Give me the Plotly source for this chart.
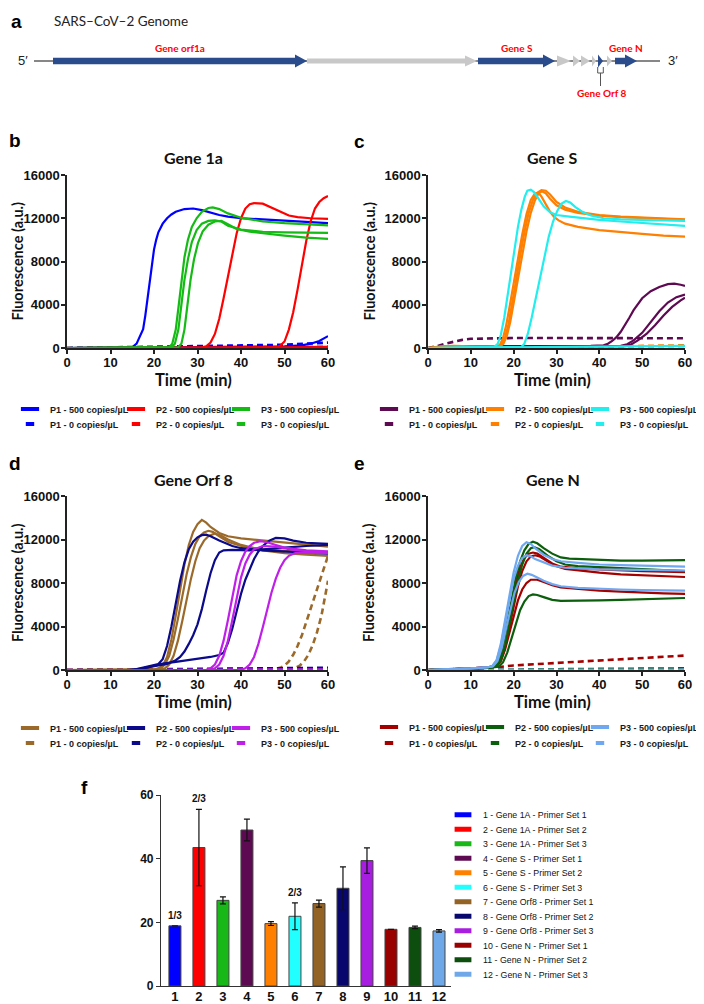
import plotly.graph_objects as go

W, H = 704, 1004

# ======================= DATA =======================
# ---- panel a : schematic genome (schematic positions along the genome) ----
GENOME_SPAN = [34, 660]
GENE_BLOCK_START = [53, 307, 478, 557, 573, 581, 592, 598, 607, 615]
GENE_BLOCK_END = [307, 477, 555, 571, 580, 590, 596, 603, 612, 637]
GENE_BLOCK_TARGET = [True, False, True, False, False, False, False, True, False, True]
GENE_LABEL_TEXT = ["Gene orf1a", "Gene S", "Gene N"]
GENE_LABEL_BLOCK = [0, 2, 9]
ORF8_BLOCK = 7
ORF8_LABEL = "Gene Orf 8"

TIME_TICKS = [0, 10, 20, 30, 40, 50, 60]
FLUOR_TICKS = [0, 4000, 8000, 12000, 16000]

LEGEND_500 = ["P1 - 500 copies/µL", "P2 - 500 copies/µL", "P3 - 500 copies/µL"]
LEGEND_0 = ["P1 - 0 copies/µL", "P2 - 0 copies/µL", "P3 - 0 copies/µL"]

# ---- panel b : Gene 1a  (each replicate = list of [time, fluorescence]) ----
GENE1A_P1_500 = [
    [[0, 0], [5, 20], [10, 40], [14, 30], [15, 60], [16, 400], [17, 1200], [17.5, 1750], [18, 3000],
     [18.5, 4500], [19, 6200], [19.5, 7900], [20, 9100], [20.5, 10000], [21, 10700], [22, 11500],
     [23, 12000], [24, 12350], [25, 12600], [27, 12850], [29, 12900], [31, 12750], [33, 12500],
     [35, 12300], [37, 12150], [40, 12000], [45, 11900], [50, 11800], [55, 11650], [60, 11550]],
    [[0, 0], [20, 50], [40, 100], [50, 150], [54, 250], [56, 400], [58, 650], [59, 850], [60, 1100]],
    [[0, 0], [30, 50], [60, 100]],
]
GENE1A_P1_0 = [[[0, 0], [10, 50], [20, 150], [30, 200], [40, 250], [50, 300], [55, 400], [60, 500]]]
GENE1A_P2_500 = [
    [[0, 0], [20, 20], [31, 40], [32, 150], [33, 500], [34, 1300], [35, 2700], [36, 4600], [37, 6700],
     [38, 8800], [39, 10600], [40, 12000], [41, 12900], [42, 13300], [43, 13400], [45, 13350],
     [47, 13000], [49, 12600], [51, 12250], [53, 12100], [56, 12000], [60, 11950]],
    [[0, 0], [30, 30], [48, 60], [49, 200], [50, 600], [51, 1700], [52, 3300], [53, 5400], [54, 7700],
     [55, 9900], [56, 11700], [57, 12900], [58, 13500], [59, 13850], [60, 14050]],
    [[0, 0], [60, 80]],
]
GENE1A_P2_0 = [[[0, 0], [60, 100]]]
GENE1A_P3_500 = [
    [[0, 0], [22, 20], [23.5, 50], [24.2, 400], [25, 1700], [25.7, 4000], [26.4, 6500], [27, 8400],
     [27.8, 10000], [28.7, 11200], [29.8, 12000], [31, 12600], [32.5, 12950], [33.5, 13000],
     [35, 12850], [37, 12450], [40, 12050], [45, 11700], [50, 11550], [55, 11450], [60, 11350]],
    [[0, 0], [24, 50], [24.8, 400], [25.6, 1700], [26.3, 4000], [27, 6300], [27.8, 8200], [28.7, 9800],
     [29.8, 10900], [31, 11500], [32.5, 11750], [34, 11800], [35.5, 11700], [37, 11300], [40, 10950],
     [45, 10750], [50, 10700], [55, 10670], [60, 10650]],
    [[0, 0], [25.5, 50], [26.3, 400], [27, 1700], [27.7, 4000], [28.4, 6300], [29.2, 8200], [30.1, 9700],
     [31.2, 10800], [32.5, 11400], [34, 11700], [35.5, 11750], [37, 11450], [39, 11000], [42, 10750],
     [46, 10550], [50, 10400], [55, 10200], [60, 10100]],
]
GENE1A_P3_0 = [[[0, 0], [60, 80]]]

# ---- panel c : Gene S ----
GENES_P1_500 = [
    [[0, 0], [3, 100], [10, 150], [20, 150], [30, 150], [38, 200], [41, 250], [42, 400], [43, 650],
     [44, 1000], [45, 1500], [46, 2100], [47, 2800], [48, 3500], [49, 4100], [50, 4600], [52, 5250],
     [54, 5650], [56, 5900], [57.5, 5950], [59, 5850], [60, 5750]],
    [[0, 0], [5, 120], [20, 150], [40, 150], [45, 200], [46.5, 350], [48, 700], [50, 1400], [52, 2400],
     [54, 3400], [56, 4200], [58, 4700], [60, 4950]],
    [[0, 0], [5, 100], [20, 130], [40, 140], [46, 180], [47.5, 350], [49, 700], [51, 1300], [53, 2100],
     [55, 3000], [57, 3800], [59, 4400], [60, 4650]],
]
GENES_P1_0 = [[[0, 0], [2, 150], [4, 400], [6, 600], [8, 750], [10, 850], [14, 900], [20, 920],
               [30, 920], [40, 920], [50, 900], [60, 900]]]
GENES_P2_500 = [
    [[0, 0], [3, 150], [6, 200], [10, 150], [14, 100], [16, 150], [16.8, 300], [17.5, 900], [18.2, 2000],
     [19, 3700], [20, 6000], [21, 8300], [22, 10500], [23, 12400], [24, 13700], [25, 14300],
     [25.8, 14350], [26.5, 14000], [27.5, 13300], [28.5, 12600], [29.5, 12100], [30.5, 11800],
     [32, 11500], [35, 11200], [40, 10900], [45, 10700], [50, 10550], [55, 10400], [60, 10300]],
    [[0, 0], [3, 100], [10, 100], [16.5, 150], [17.3, 400], [18, 1000], [18.8, 2200], [19.6, 3900],
     [20.5, 6100], [21.5, 8500], [22.5, 10700], [23.5, 12500], [24.5, 13700], [25.5, 14350],
     [26.5, 14600], [27.5, 14550], [28.5, 14200], [30, 13500], [32, 13000], [35, 12600], [40, 12300],
     [45, 12150], [50, 12050], [55, 11950], [60, 11900]],
    [[0, 0], [10, 100], [16.8, 150], [17.6, 400], [18.4, 1100], [19.2, 2400], [20, 4100], [21, 6400],
     [22, 8700], [23, 10800], [24, 12500], [25, 13700], [25.8, 14300], [26.6, 14500], [27.5, 14300],
     [28.5, 13800], [30, 13200], [32, 12800], [35, 12500], [40, 12250], [45, 12100], [50, 12000],
     [60, 11850]],
]
GENES_P2_0 = [[[0, 0], [20, 50], [40, 100], [50, 200], [60, 250]]]
GENES_P3_500 = [
    [[0, 0], [10, 50], [15.5, 100], [16.3, 400], [17, 1200], [17.8, 2800], [18.6, 4900], [19.4, 7100],
     [20.2, 9300], [21, 11200], [21.8, 12800], [22.6, 14000], [23.2, 14550], [24, 14650], [24.8, 14400],
     [25.8, 13800], [27, 13100], [28.5, 12550], [30, 12300], [33, 12150], [36, 12000], [40, 11850],
     [45, 11700], [50, 11550], [55, 11400], [60, 11300]],
    [[0, 0], [10, 50], [20, 80], [21.8, 100], [22.5, 400], [23.3, 1300], [24.2, 2800], [25.2, 4700],
     [26.2, 6700], [27.2, 8600], [28.2, 10300], [29.2, 11700], [30.2, 12700], [31.2, 13350],
     [32.2, 13600], [33.2, 13450], [34.5, 13000], [36, 12600], [38, 12250], [41, 12000], [45, 11900],
     [50, 11850], [55, 11800], [60, 11750]],
    [[0, 0], [30, 100], [50, 200], [60, 200]],
]
GENES_P3_0 = [[[0, 0], [60, 150]]]

# ---- panel d : Gene Orf 8 ----
GENEORF8_P1_500 = [
    [[0, 0], [15, 0], [20, 50], [21, 150], [22, 400], [23, 1200], [24, 2800], [25, 5000], [26, 7400],
     [27, 9700], [28, 11500], [29, 12700], [30, 13400], [31, 13800], [32, 13550], [33, 13150],
     [35, 12600], [37, 12300], [40, 12100], [45, 11900], [50, 11700], [55, 11500], [60, 11350]],
    [[0, 0], [20, 30], [21.5, 150], [22.5, 500], [23.5, 1300], [24.5, 2800], [25.5, 4700], [26.5, 6800],
     [27.5, 8800], [28.5, 10400], [29.5, 11600], [30.5, 12300], [31.5, 12650], [32.5, 12800],
     [33.5, 12700], [35, 12300], [37, 11800], [40, 11400], [45, 11100], [50, 10950], [55, 10850],
     [60, 10800]],
    [[0, 0], [21, 30], [22.5, 150], [23.5, 500], [24.5, 1300], [25.5, 2700], [26.5, 4500], [27.5, 6500],
     [28.5, 8400], [29.5, 10000], [30.5, 11200], [31.5, 11900], [32.5, 12300], [34, 12550],
     [35.5, 12350], [37, 12000], [40, 11500], [45, 11000], [50, 10750], [55, 10600], [60, 10500]],
]
GENEORF8_P1_0 = [
    [[0, 0], [30, 50], [48, 100], [49, 200], [50, 400], [51, 800], [52, 1400], [53, 2200], [54, 3200],
     [55, 4400], [56, 5600], [57, 6900], [58, 8100], [59, 9300], [60, 10500]],
    [[0, 0], [30, 50], [51, 100], [52.5, 200], [53.5, 400], [54.5, 800], [55.5, 1400], [56.5, 2300],
     [57.5, 3500], [58.5, 5000], [59.3, 6600], [60, 8200]],
    [[0, 0], [60, 100]],
]
GENEORF8_P2_500 = [
    [[0, 0], [14, 0], [16, 80], [18, 250], [20, 400], [21, 550], [22, 1000], [23, 2200], [24, 4000],
     [25, 6100], [26, 8200], [27, 9900], [28, 11100], [29, 11800], [30, 12200], [31, 12400],
     [32, 12450], [33, 12300], [35, 11900], [38, 11400], [40, 11200], [45, 11000], [50, 10900],
     [55, 10800], [60, 10700]],
    [[0, 0], [15, 0], [17, 120], [19, 300], [21, 420], [23, 550], [24, 700], [25, 900], [26, 1200],
     [27, 1700], [28, 2400], [29, 3200], [30, 4200], [31, 5600], [32, 7300], [33, 8900], [34, 10100],
     [35, 10800], [36, 11000], [38, 11050], [42, 11000], [46, 11100], [50, 11250], [55, 11400],
     [60, 11500]],
    [[0, 0], [15, 0], [17, 100], [19, 280], [20, 420], [22, 580], [25, 750], [28, 900], [30, 1000],
     [33, 1200], [35, 1380], [36, 1600], [37, 2500], [38, 3800], [39, 5400], [40, 7000], [41, 8300],
     [42, 9300], [43, 10200], [44, 10900], [45, 11400], [46.5, 11900], [48, 12150], [50, 12100],
     [52, 11900], [55, 11700], [60, 11600]],
]
GENEORF8_P2_0 = [[[0, 0], [20, 80], [40, 150], [60, 200]]]
GENEORF8_P3_500 = [
    [[0, 0], [32, 20], [33, 150], [34, 500], [35, 1300], [36, 2700], [37, 4600], [38, 6800], [39, 8700],
     [40, 10000], [41, 10900], [42, 11400], [43, 11700], [44.5, 11850], [46, 11750], [48, 11500],
     [50, 11250], [55, 11000], [60, 10900]],
    [[0, 0], [33, 20], [34, 150], [35, 500], [36, 1300], [37, 2700], [38, 4600], [39, 6700], [40, 8500],
     [41, 9800], [42, 10600], [43, 11100], [45, 11400], [48, 11350], [52, 11050], [56, 10900],
     [60, 10800]],
    [[0, 0], [40, 20], [41, 150], [42, 500], [43, 1200], [44, 2400], [45, 3900], [46, 5500], [47, 7100],
     [48, 8400], [49, 9400], [50, 10100], [51, 10500], [52.5, 10750], [55, 10800], [60, 10750]],
]
GENEORF8_P3_0 = [[[0, 0], [60, 50]]]

# ---- panel e : Gene N ----
GENEN_P1_500 = [
    [[0, 0], [5, 60], [10, 150], [14, 250], [15.5, 350], [16.5, 900], [17.5, 2300], [18.5, 4200],
     [19.5, 6200], [20.5, 8000], [21.5, 9400], [22.5, 10300], [23.5, 10700], [24.5, 10800],
     [25.5, 10700], [27, 10300], [29, 9800], [31, 9500], [33, 9400], [35, 9350], [40, 9250],
     [45, 9150], [50, 9100], [55, 9050], [60, 9000]],
    [[0, 0], [5, 60], [10, 150], [14, 250], [16, 350], [17, 900], [18, 2100], [19, 3900], [20, 5900],
     [21, 7700], [22, 9100], [23, 10000], [24, 10450], [25, 10550], [26, 10450], [27.5, 10100],
     [29.5, 9600], [32, 9300], [35, 9150], [40, 8950], [45, 8800], [50, 8700], [55, 8600], [60, 8550]],
    [[0, 0], [5, 60], [10, 150], [14, 250], [16, 350], [17, 800], [18, 1900], [19, 3400], [20, 5000],
     [21, 6400], [22, 7400], [23, 8000], [24, 8300], [25.5, 8300], [27, 8100], [29, 7800], [31, 7600],
     [35, 7450], [40, 7300], [45, 7200], [50, 7100], [55, 7050], [60, 7000]],
]
GENEN_P1_0 = [[[0, 0], [10, 100], [15, 200], [20, 420], [25, 530], [30, 650], [35, 760], [40, 870],
               [45, 980], [50, 1100], [55, 1220], [60, 1330]]]
GENEN_P2_500 = [
    [[0, 0], [5, 50], [10, 120], [14, 200], [15.5, 300], [16.5, 800], [17.5, 2200], [18.5, 4300],
     [19.5, 6500], [20.5, 8500], [21.5, 10000], [22.5, 11000], [23.5, 11600], [24.5, 11800],
     [25.5, 11650], [27, 11200], [29, 10700], [31, 10350], [33, 10250], [36, 10200], [40, 10100],
     [45, 10050], [50, 10050], [55, 10050], [60, 10100]],
    [[0, 0], [5, 50], [10, 120], [14, 200], [16, 350], [17, 900], [18, 2200], [19, 4200], [20, 6300],
     [21, 8200], [22, 9700], [23, 10700], [24, 11200], [24.8, 11300], [26, 11100], [28, 10500],
     [30, 10000], [32, 9700], [35, 9550], [40, 9450], [45, 9350], [50, 9250], [55, 9150], [60, 9100]],
    [[0, 0], [5, 50], [10, 120], [14, 200], [16.5, 300], [17.5, 700], [18.5, 1600], [19.5, 2900],
     [20.5, 4300], [21.5, 5500], [22.5, 6300], [23.5, 6800], [24.5, 6950], [25.5, 6900], [27, 6700],
     [29, 6450], [31, 6350], [35, 6350], [40, 6400], [45, 6450], [50, 6500], [55, 6550], [60, 6620]],
]
GENEN_P2_0 = [[[0, 0], [20, 50], [40, 100], [50, 130], [60, 150]]]
GENEN_P3_500 = [
    [[0, 0], [5, 60], [10, 150], [14, 250], [15, 350], [16, 900], [17, 2400], [18, 4600], [19, 7000],
     [20, 9000], [21, 10500], [22, 11400], [23, 11750], [24, 11600], [25, 11200], [27, 10600],
     [29, 10200], [31, 10000], [35, 9850], [40, 9700], [45, 9650], [50, 9600], [55, 9550], [60, 9500]],
    [[0, 0], [5, 60], [10, 150], [14, 250], [15, 350], [16, 850], [17, 2200], [18, 4300], [19, 6500],
     [20, 8400], [21, 9600], [22, 10300], [23, 10550], [24, 10450], [25, 10200], [27, 9900], [29, 9600],
     [32, 9400], [36, 9300], [40, 9250], [50, 9200], [60, 9150]],
    [[0, 0], [5, 60], [10, 150], [14, 250], [15.2, 350], [16.2, 800], [17.2, 2000], [18.2, 3800],
     [19.2, 5600], [20.2, 7100], [21.2, 8100], [22.2, 8650], [23.2, 8850], [24.2, 8750], [25.5, 8500],
     [27, 8200], [29, 7900], [31, 7700], [35, 7550], [40, 7450], [45, 7400], [50, 7350], [55, 7320],
     [60, 7300]],
]
GENEN_P3_0 = [[[0, 0], [60, 30]]]

# ---- panel f : time to positive (min) ----
BAR_IDS = [1, 2, 3, 4, 5, 6, 7, 8, 9, 10, 11, 12]
BAR_MEANS = [18.9, 43.5, 26.9, 49.0, 19.6, 21.9, 25.9, 30.7, 39.4, 17.8, 18.4, 17.3]
BAR_ERRORS = [None, 12.0, 1.1, 3.4, 0.6, 4.2, 1.1, 6.7, 4.0, None, 0.4, 0.4]
BAR_FRACTIONS = ["1/3", "2/3", "", "", "", "2/3", "", "", "", "", "", ""]
BAR_NAMES = ["1 - Gene 1A - Primer Set 1", "2 - Gene 1A - Primer Set 2", "3 - Gene 1A - Primer Set 3",
             "4 - Gene S - Primer Set 1", "5 - Gene S - Primer Set 2", "6 - Gene S - Primer Set 3",
             "7 - Gene Orf8 - Primer Set 1", "8 - Gene Orf8 - Primer Set 2", "9 - Gene Orf8 - Primer Set 3",
             "10 - Gene N - Primer Set 1", "11 - Gene N - Primer Set 2", "12 - Gene N - Primer Set 3"]
BAR_TICKS = [0, 20, 40, 60]

# ======================= STYLE / LAYOUT =======================
BLUE_ARROW = "#2b4c8c"
GRAY_ARROW = "#c8c8c8"
BAR_COLORS = ["#0000ff", "#ff0000", "#17b817", "#5e0a52", "#ff8000", "#22ffff",
              "#936225", "#07076e", "#a81ee0", "#990000", "#0d4d0d", "#6fa8e8"]
AXIS_COLOR = "#222222"
TICK_FONT = dict(family="Liberation Sans", size=13, color="#111111", weight="bold")
TITLE_FAMILY = "Lato"

# The page body adds an 8 px margin around the plot div; all layout positions below are
# given in page pixels and converted here so that they land where the reference has them.
OFF = 8


def px_x(p):
    return (p - OFF) / W


def px_y(p):
    return 1 - (p - OFF) / H


LEFT_X, RIGHT_X = (67, 328), (428, 685)
TOP_Y, BOT_Y = (175, 348), (496, 670)
LEFT_LEG_TEXT_X = [50, 156, 261]
RIGHT_LEG_TEXT_X = [409, 515, 620]

PANELS = [
    dict(letter="b", title="Gene 1a", xid="x2", yid="y2", xd=LEFT_X, yd=TOP_Y,
         series=[GENE1A_P1_500, GENE1A_P2_500, GENE1A_P3_500], zero=[GENE1A_P1_0, GENE1A_P2_0, GENE1A_P3_0],
         colors=["#0000ff", "#ff0000", "#14bb14"],
         leg_x=LEFT_LEG_TEXT_X, leg_y=(409, 424), letter_pos=(15, 140), ytitle_x=17),
    dict(letter="c", title="Gene S", xid="x3", yid="y3", xd=RIGHT_X, yd=TOP_Y,
         series=[GENES_P1_500, GENES_P2_500, GENES_P3_500], zero=[GENES_P1_0, GENES_P2_0, GENES_P3_0],
         colors=["#5e0a52", "#ff7f00", "#22eeee"],
         leg_x=RIGHT_LEG_TEXT_X, leg_y=(409, 424), letter_pos=(359, 141), ytitle_x=369),
    dict(letter="d", title="Gene Orf 8", xid="x4", yid="y4", xd=LEFT_X, yd=BOT_Y,
         series=[GENEORF8_P1_500, GENEORF8_P2_500, GENEORF8_P3_500],
         zero=[GENEORF8_P1_0, GENEORF8_P2_0, GENEORF8_P3_0],
         colors=["#9b6a2a", "#0a0a8a", "#bf1fe8"],
         leg_x=LEFT_LEG_TEXT_X, leg_y=(728, 743), letter_pos=(15, 463), ytitle_x=17),
    dict(letter="e", title="Gene N", xid="x5", yid="y5", xd=RIGHT_X, yd=BOT_Y,
         series=[GENEN_P1_500, GENEN_P2_500, GENEN_P3_500], zero=[GENEN_P1_0, GENEN_P2_0, GENEN_P3_0],
         colors=["#a30000", "#0b5e0b", "#6fa8f0"],
         leg_x=RIGHT_LEG_TEXT_X, leg_y=(727, 743), letter_pos=(359, 463), ytitle_x=368),
]

fig = go.Figure()
layout = dict(width=W, height=H, margin=dict(l=0, r=0, t=0, b=0, autoexpand=False),
              paper_bgcolor="white", plot_bgcolor="white", showlegend=True)
annotations = []
shapes = []
_leg_count = [0]


def new_legend(text_x, y_center, font):
    """One legend box per entry so each entry sits exactly where the reference puts it."""
    _leg_count[0] += 1
    lid = "legend" if _leg_count[0] == 1 else f"legend{_leg_count[0]}"
    layout[lid] = dict(orientation="v", x=px_x(text_x - 40), y=px_y(y_center), xanchor="left",
                       yanchor="middle", font=font, bgcolor="rgba(0,0,0,0)", borderwidth=0,
                       itemclick=False, itemdoubleclick=False)
    return lid


def label(x, y, text, font, **kw):
    d = dict(xref="paper", yref="paper", x=px_x(x), y=px_y(y), text=text, showarrow=False,
             xanchor="center", yanchor="middle", font=font)
    d.update(kw)
    annotations.append(d)


LETTER_FONT = dict(family="Liberation Sans", size=19, color="#000", weight="bold")

# ---------------- panel a ----------------
layout["xaxis"] = dict(domain=[0, 1], range=[OFF, W + OFF], visible=False, fixedrange=True)
layout["yaxis"] = dict(domain=[px_y(112), 1], range=[112, OFF], visible=False, fixedrange=True)
GY = 61
shapes.append(dict(type="line", xref="x", yref="y", x0=GENOME_SPAN[0], x1=GENOME_SPAN[1], y0=GY, y1=GY,
                   line=dict(color="#111111", width=1.2)))


def arrow_path(s, e, target):
    hh = 6.5 if target else 5.5
    bh = 3.2 if target else 2.6
    hl = 12
    if e - s > hl + 2:
        pts = [(s, GY - bh), (e - hl, GY - bh), (e - hl, GY - hh), (e, GY), (e - hl, GY + hh),
               (e - hl, GY + bh), (s, GY + bh)]
    else:
        pts = [(s, GY - hh), (e, GY), (s, GY + hh)]
    return "M " + " L ".join(f"{x},{y}" for x, y in pts) + " Z"


for s, e, t in zip(GENE_BLOCK_START, GENE_BLOCK_END, GENE_BLOCK_TARGET):
    col = BLUE_ARROW if t else GRAY_ARROW
    shapes.append(dict(type="path", xref="x", yref="y", path=arrow_path(s, e, t),
                       fillcolor=col, line=dict(width=0)))

RED_LABEL = dict(family=TITLE_FAMILY, size=10, color="#ff0000", weight="bold")
for txt, bi in zip(GENE_LABEL_TEXT, GENE_LABEL_BLOCK):
    cx = (GENE_BLOCK_START[bi] + GENE_BLOCK_END[bi]) / 2
    annotations.append(dict(xref="x", yref="y", x=cx, y=GY - 13, text=txt, showarrow=False,
                            xanchor="center", yanchor="middle", font=RED_LABEL))

o8 = (GENE_BLOCK_START[ORF8_BLOCK] + GENE_BLOCK_END[ORF8_BLOCK]) / 2
shapes.append(dict(type="path", xref="x", yref="y",
                   path=f"M {o8-2.8},{GY+6} L {o8-2.8},{GY+12} L {o8+2.8},{GY+12} L {o8+2.8},{GY+6}",
                   line=dict(color="#555555", width=1)))
shapes.append(dict(type="line", xref="x", yref="y", x0=o8, x1=o8, y0=GY + 12, y1=GY + 25,
                   line=dict(color="#555555", width=1)))
annotations.append(dict(xref="x", yref="y", x=o8 + 1, y=GY + 32, text=ORF8_LABEL, showarrow=False,
                        xanchor="center", yanchor="middle", font=RED_LABEL))
annotations.append(dict(xref="x", yref="y", x=GENOME_SPAN[0] - 4, y=GY - 1, text="5′", showarrow=False,
                        xanchor="right", yanchor="middle",
                        font=dict(family="Liberation Sans", size=13, color="#222")))
annotations.append(dict(xref="x", yref="y", x=GENOME_SPAN[1] + 6, y=GY - 1, text="3′", showarrow=False,
                        xanchor="left", yanchor="middle",
                        font=dict(family="Liberation Sans", size=13, color="#222")))
annotations.append(dict(xref="x", yref="y", x=52, y=21, xanchor="left",
                        yanchor="middle", text="SARS–CoV–2 Genome", showarrow=False,
                        font=dict(family=TITLE_FAMILY, size=13.5, color="#222")))
label(16, 22, "a", LETTER_FONT)

# ---------------- panels b-e ----------------
LEG_FONT = dict(family="Liberation Sans", size=9, color="#1a1a1a", weight="bold")
for P in PANELS:
    xid, yid = P["xid"], P["yid"]
    xkey, ykey = "xaxis" + xid[1:], "yaxis" + yid[1:]
    layout[xkey] = dict(domain=[px_x(P["xd"][0]), px_x(P["xd"][1])], range=[0, 60], anchor=yid,
                        tickvals=TIME_TICKS, ticktext=[str(v) for v in TIME_TICKS],
                        showline=True, linecolor=AXIS_COLOR, linewidth=1.5, ticks="outside", ticklen=4,
                        tickwidth=1.5, tickcolor=AXIS_COLOR, tickfont=TICK_FONT, showgrid=False,
                        zeroline=False, fixedrange=True, ticklabelstandoff=-2)
    layout[ykey] = dict(domain=[px_y(P["yd"][1]), px_y(P["yd"][0])], range=[0, 16000], anchor=xid,
                        tickvals=FLUOR_TICKS, ticktext=[str(v) for v in FLUOR_TICKS],
                        showline=True, linecolor=AXIS_COLOR, linewidth=1.5, ticks="outside", ticklen=4,
                        tickwidth=1.5, tickcolor=AXIS_COLOR, tickfont=TICK_FONT, showgrid=False,
                        zeroline=False, fixedrange=True, ticklabelstandoff=-1)
    for reps, col in zip(P["zero"], P["colors"]):
        for rep in reps:
            fig.add_trace(go.Scatter(x=[p[0] for p in rep], y=[p[1] for p in rep], mode="lines",
                                     line=dict(color=col, width=2.6, dash="6px,4px"), showlegend=False,
                                     hoverinfo="skip", xaxis=xid, yaxis=yid))
    for reps, col in zip(P["series"], P["colors"]):
        for rep in reps:
            fig.add_trace(go.Scatter(x=[p[0] for p in rep], y=[p[1] for p in rep], mode="lines",
                                     line=dict(color=col, width=2.2), showlegend=False,
                                     hoverinfo="skip", xaxis=xid, yaxis=yid))
    for row, (names, size) in enumerate([(LEGEND_500, 13), (LEGEND_0, 6)]):
        for name, col, tx in zip(names, P["colors"], P["leg_x"]):
            lid = new_legend(tx, P["leg_y"][row], LEG_FONT)
            fig.add_trace(go.Scatter(x=[None], y=[None], mode="markers", name=name, legend=lid,
                                     marker=dict(symbol="line-ew", size=size, color=col,
                                                 line=dict(color=col, width=4)),
                                     xaxis=xid, yaxis=yid, hoverinfo="skip"))
    cx = (P["xd"][0] + P["xd"][1]) / 2 - 4
    cy = (P["yd"][0] + P["yd"][1]) / 2
    label(cx, P["yd"][0] - 17, P["title"],
          dict(family=TITLE_FAMILY, size=16, color="#111", weight="bold"))
    label(cx, P["yd"][1] + 32, "Time (min)",
          dict(family=TITLE_FAMILY, size=16.5, color="#111", weight="bold"))
    label(P["ytitle_x"], cy, "Fluorescence (a.u.)",
          dict(family=TITLE_FAMILY, size=14.5, color="#111", weight="bold"), textangle=-90)
    label(P["letter_pos"][0], P["letter_pos"][1], P["letter"], LETTER_FONT)

# ---------------- panel f ----------------
layout["xaxis6"] = dict(domain=[px_x(161), px_x(451)], range=[0.42, 12.5], anchor="y6",
                        tickvals=BAR_IDS, ticktext=[str(v) for v in BAR_IDS],
                        showline=True, linecolor="#333", linewidth=1.2, ticks="",
                        tickfont=dict(family="Liberation Sans", size=13, color="#111", weight="bold"),
                        showgrid=False, zeroline=False, fixedrange=True, ticklabelstandoff=-2)
layout["yaxis6"] = dict(domain=[px_y(986), px_y(795)], range=[0, 60], anchor="x6",
                        tickvals=BAR_TICKS, ticktext=[str(v) for v in BAR_TICKS],
                        showline=True, linecolor="#333", linewidth=1.2, ticks="outside", ticklen=4,
                        tickwidth=1.2, tickcolor="#333",
                        tickfont=dict(family="Liberation Sans", size=12, color="#111", weight="bold"),
                        showgrid=False, zeroline=False, fixedrange=True)
fig.add_trace(go.Bar(x=BAR_IDS, y=BAR_MEANS, width=0.5, xaxis="x6", yaxis="y6", showlegend=False,
                     marker=dict(color=BAR_COLORS, line=dict(color="#444444", width=1)),
                     error_y=dict(type="data", array=BAR_ERRORS, color="#111111", thickness=1.2, width=3),
                     hoverinfo="skip"))
for bid, m, e, frac in zip(BAR_IDS, BAR_MEANS, BAR_ERRORS, BAR_FRACTIONS):
    if frac:
        annotations.append(dict(xref="x6", yref="y6", x=bid, y=m + (e or 0), text=frac, showarrow=False,
                                xanchor="center", yanchor="bottom", yshift=3,
                                font=dict(family="Liberation Sans", size=10, color="#111",
                                          weight="bold")))
F_LEG_FONT = dict(family="Liberation Sans", size=8.8, color="#111")
for i, (name, col) in enumerate(zip(BAR_NAMES, BAR_COLORS)):
    lid = new_legend(483, 814.7 + i * 14.5, F_LEG_FONT)
    fig.add_trace(go.Scatter(x=[None], y=[None], mode="markers", name=name, legend=lid,
                             marker=dict(symbol="line-ew", size=12, color=col, line=dict(color=col, width=5)),
                             xaxis="x6", yaxis="y6", hoverinfo="skip"))
label(84, 787, "f", LETTER_FONT)

layout["annotations"] = annotations
layout["shapes"] = shapes
fig.update_layout(**layout)
fig.write_html("out.html")
